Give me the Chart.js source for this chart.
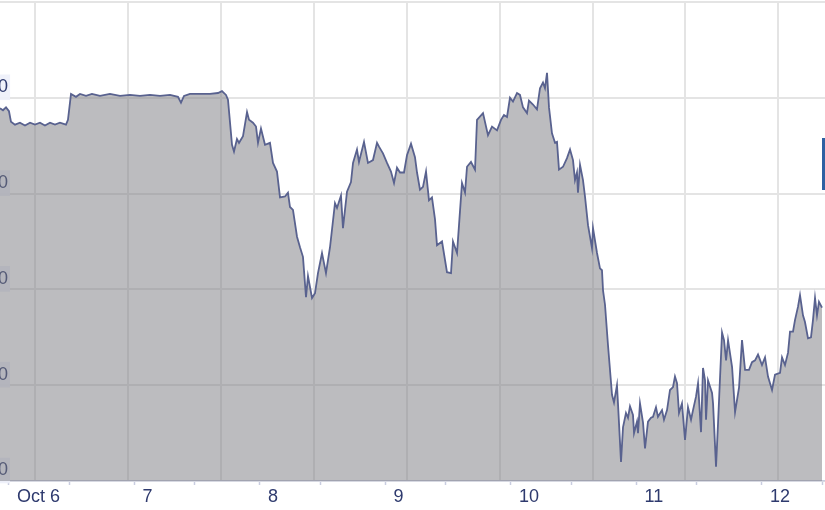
<!DOCTYPE html>
<html>
<head>
<meta charset="utf-8">
<script src="https://cdn.jsdelivr.net/npm/chart.js@4.4.1/dist/chart.umd.min.js"></script>
<style>
	html, body { margin: 0; padding: 0; background: #fff; }
	body { width: 825px; height: 510px; overflow: hidden; position: relative; }
	#chart { position: absolute; left: -50px; top: 0; }
	#tab { position: absolute; left: 822px; top: 138px; width: 3px; height: 52px; background: #2f60a2; }
</style>
</head>
<body>
<canvas id="chart" width="875" height="510"></canvas>
<div id="tab"></div>
<script>
// hours since Oct 6 00:00
const hours = [
	-1.72, -1.15, -0.57, 0.00, 0.38, 1.15, 2.10, 3.06, 4.02, 4.97, 5.93, 6.88, 7.84, 8.80, 9.75, 10.90, 11.28,
	11.86, 12.81, 13.58, 14.73, 15.87, 17.40, 19.31, 21.23, 23.14, 25.05, 26.96, 28.88, 30.79, 32.32, 32.89,
	33.47, 34.61, 36.52, 38.44, 39.97, 40.73, 41.50, 41.88, 42.65, 43.03, 43.60, 43.99, 44.75, 45.52, 45.90,
	46.66, 47.24, 47.62, 48.19, 48.96, 49.91, 50.49, 51.25, 51.83, 52.78, 53.35, 53.74, 54.31, 55.08, 55.65,
	56.22, 56.80, 57.18, 57.95, 58.52, 59.09, 59.86, 60.62, 61.39, 62.34, 62.73, 63.49, 63.87, 64.64, 65.40,
	65.79, 66.55, 66.93, 67.89, 68.65, 69.61, 70.38, 70.76, 71.52, 72.29, 73.05, 73.63, 74.20, 74.78, 75.54,
	76.11, 76.88, 77.64, 78.03, 78.60, 79.17, 79.75, 80.32, 80.89, 81.47, 81.85, 82.81, 83.76, 84.53, 84.91,
	85.68, 86.63, 87.21, 87.59, 88.35, 89.12, 89.50, 90.65, 91.60, 92.37, 93.33, 94.09, 94.66, 95.24, 95.81,
	96.38, 97.15, 97.72, 98.30, 99.06, 99.44, 100.21, 100.97, 101.55, 102.12, 102.50, 102.89, 103.27, 103.84,
	104.42, 104.80, 105.18, 105.95, 106.71, 107.29, 107.86, 108.24, 108.62, 108.81, 109.20, 109.77, 110.15,
	110.73, 111.49, 111.68, 112.45, 113.02, 113.40, 113.60, 113.98, 114.55, 115.32, 115.70, 116.27, 116.46,
	117.04, 117.42, 117.99, 118.38, 118.76, 119.33, 119.53, 120.10, 120.29, 120.67, 121.25, 121.63, 122.20,
	122.78, 123.16, 123.73, 124.11, 124.88, 125.26, 125.84, 126.41, 126.98, 127.36, 127.75, 128.13, 128.70,
	129.28, 129.85, 130.43, 130.81, 131.38, 131.77, 132.34, 132.72, 133.11, 133.30, 133.68, 134.45, 134.64,
	135.21, 135.60, 136.36, 136.74, 137.13, 137.51, 138.28, 138.85, 139.62, 140.18, 140.76, 141.52, 142.09,
	142.67, 143.24, 144.00, 144.58, 145.15, 145.92, 146.49, 147.45, 147.83, 148.40, 148.98, 149.36, 149.93,
	150.31, 150.89, 151.27, 151.84, 152.22, 152.80, 153.37, 153.75, 154.14, 154.52, 154.90, 155.48
];
const rates = [
	1.17389, 1.17387, 1.17390, 1.17386, 1.17375, 1.17372, 1.17374, 1.17371, 1.17374, 1.17372, 1.17374, 1.17371, 1.17374, 1.17372, 1.17374, 1.17372, 1.17377,
	1.17404, 1.17401, 1.17404, 1.17402, 1.17404, 1.17402, 1.17404, 1.17402, 1.17403, 1.17402, 1.17403, 1.17402, 1.17403, 1.17401, 1.17395,
	1.17402, 1.17404, 1.17404, 1.17404, 1.17405, 1.17407, 1.17403, 1.17398, 1.17351, 1.17344, 1.17357, 1.17353, 1.17360, 1.17385, 1.17377,
	1.17374, 1.17370, 1.17353, 1.17368, 1.17351, 1.17353, 1.17332, 1.17323, 1.17296, 1.17297, 1.17301, 1.17286, 1.17283, 1.17255, 1.17244,
	1.17234, 1.17192, 1.17214, 1.17191, 1.17196, 1.17217, 1.17238, 1.17217, 1.17244, 1.17290, 1.17285, 1.17298, 1.17264, 1.17302, 1.17312,
	1.17332, 1.17346, 1.17333, 1.17354, 1.17332, 1.17335, 1.17353, 1.17349, 1.17342, 1.17332, 1.17323, 1.17311, 1.17327, 1.17322, 1.17322,
	1.17340, 1.17352, 1.17338, 1.17322, 1.17304, 1.17307, 1.17323, 1.17293, 1.17296, 1.17273, 1.17246, 1.17250, 1.17218, 1.17217, 1.17250,
	1.17238, 1.17311, 1.17301, 1.17328, 1.17333, 1.17325, 1.17377, 1.17384, 1.17361, 1.17370, 1.17366, 1.17377, 1.17382, 1.17380, 1.17400,
	1.17396, 1.17405, 1.17403, 1.17390, 1.17384, 1.17397, 1.17393, 1.17388, 1.17410, 1.17416, 1.17410, 1.17426, 1.17390, 1.17363,
	1.17353, 1.17354, 1.17325, 1.17328, 1.17337, 1.17346, 1.17335, 1.17314, 1.17322, 1.17301, 1.17330, 1.17314, 1.17297,
	1.17267, 1.17243, 1.17264, 1.17238, 1.17222, 1.17220, 1.17199, 1.17184, 1.17142, 1.17090, 1.17082, 1.17100, 1.17081,
	1.17020, 1.17056, 1.17071, 1.17066, 1.17078, 1.17069, 1.17050, 1.17062, 1.17050, 1.17081, 1.17061, 1.17034, 1.17062,
	1.17066, 1.17067, 1.17077, 1.17067, 1.17074, 1.17064, 1.17074, 1.17095, 1.17098, 1.17109, 1.17102, 1.17071, 1.17081,
	1.17043, 1.17077, 1.17064, 1.17074, 1.17088, 1.17102, 1.17051, 1.17118, 1.17105, 1.17064, 1.17105, 1.17092, 1.17081,
	1.17015, 1.17061, 1.17155, 1.17147, 1.17126, 1.17147, 1.17119, 1.17072, 1.17098, 1.17147, 1.17116, 1.17116, 1.17124,
	1.17126, 1.17132, 1.17121, 1.17129, 1.17109, 1.17095, 1.17111, 1.17113, 1.17129, 1.17121, 1.17134, 1.17156, 1.17156,
	1.17168, 1.17182, 1.17194, 1.17173, 1.17166, 1.17149, 1.17150, 1.17168, 1.17191, 1.17173, 1.17187, 1.17181
];

const dayHours = [0, 24, 48, 72, 96, 120, 144];
const dayLabels = ['Oct 6', '7', '8', '9', '10', '11', '12'];
const halfDayHours = [11.5, 35.5, 59.5, 83.5, 107.5, 131.5, 155.5];
const yTicks = [1.1700, 1.1710, 1.1720, 1.1730, 1.1740, 1.1750];
const gridHours = [4.97, 22.74, 40.51, 58.28, 76.05, 93.82, 111.59, 129.36, 147.13];

const xMin = -11.28, xMax = 156.05;
const ink = '#2e3a6e';
const lavender = '#c9cde0';
const gridGrey = '#e4e4e4';
const font = { family: '"Liberation Sans", Arial, Helvetica, sans-serif', size: 18 };

const setTicks = list => scale => { scale.ticks = list.map(value => ({ value })); };
// keep the plot flush with the canvas edges
const flatX = h => s => { s.height = h; s.paddingLeft = 0; s.paddingRight = 0; };
const flatY = s => { s.width = 0; s.paddingTop = 0; s.paddingBottom = 0; };

new Chart(document.getElementById('chart'), {
	type: 'line',
	data: {
		datasets: [{
			data: hours.map((h, i) => ({ x: h, y: rates[i] })),
			borderColor: '#59628f',
			borderWidth: 1.8,
			backgroundColor: 'rgba(122,122,128,0.5)',
			fill: 'start',
			pointRadius: 0,
			tension: 0,
		}],
	},
	options: {
		responsive: false,
		animation: false,
		devicePixelRatio: 1,
		layout: { padding: { top: 2, left: 0, right: 0, bottom: 0 }, autoPadding: false },
		plugins: { legend: { display: false }, tooltip: { enabled: false } },
		scales: {
			x: {
				type: 'linear', position: 'bottom', min: xMin, max: xMax, z: 1,
				afterBuildTicks: setTicks([...dayHours, ...halfDayHours].sort((a, b) => a - b)),
				afterFit: flatX(29),
				border: { display: true, color: lavender, width: 1.5 },
				grid: { drawOnChartArea: false, drawTicks: true, tickLength: 4, color: lavender, tickWidth: 1.5 },
				ticks: {
					autoSkip: false, maxRotation: 0, align: 'start', labelOffset: 8, padding: 1,
					color: ink, font,
					callback: value => {
						const i = dayHours.indexOf(value);
						return i < 0 ? '' : dayLabels[i];
					},
				},
			},
			xg: {
				type: 'linear', position: 'bottom', min: xMin, max: xMax,
				afterBuildTicks: setTicks(gridHours),
				afterFit: flatX(0),
				border: { display: false },
				grid: { color: gridGrey, lineWidth: 2, drawTicks: false },
				ticks: { display: false },
			},
			yg: {
				type: 'linear', position: 'left', min: yTicks[0], max: yTicks[yTicks.length - 1],
				afterBuildTicks: setTicks(yTicks),
				afterFit: flatY,
				border: { display: false },
				grid: { color: gridGrey, lineWidth: 2, drawTicks: false },
				ticks: { display: false },
			},
			y: {
				type: 'linear', position: 'left', min: yTicks[0], max: yTicks[yTicks.length - 1], z: 1,
				afterBuildTicks: setTicks(yTicks),
				afterFit: flatY,
				border: { display: false },
				grid: { drawOnChartArea: false, drawTicks: false },
				ticks: {
					mirror: true, padding: 3, labelOffset: -10.5,
					color: ink, font,
					showLabelBackdrop: true,
					backdropColor: 'rgba(238,240,250,0.92)',
					backdropPadding: { top: 2, bottom: 2, left: 3, right: 2 },
					callback: value => value === yTicks[yTicks.length - 1] ? '' : value.toFixed(4),
				},
			},
		},
	},
});
</script>
</body>
</html>
